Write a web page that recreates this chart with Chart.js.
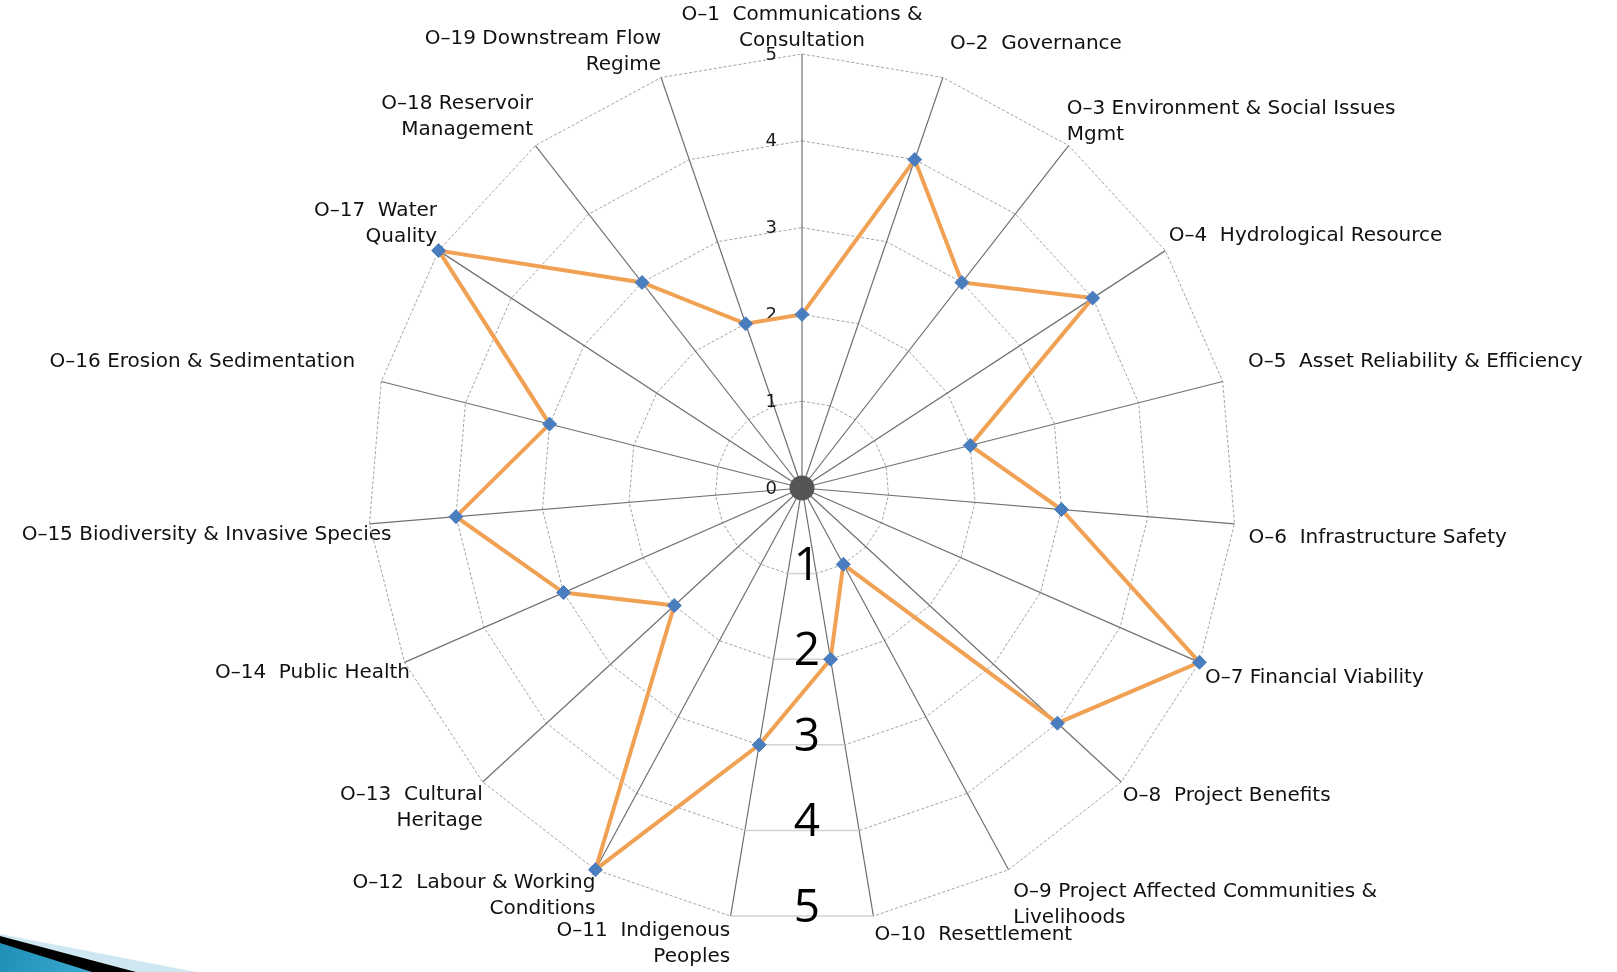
<!DOCTYPE html>
<html>
<head>
<meta charset="utf-8">
<script src="https://cdn.jsdelivr.net/npm/chart.js@4/dist/chart.umd.min.js"></script>
<style>
  html, body { margin: 0; padding: 0; background: #fff; }
  #wrap { width: 1617px; height: 972px; position: relative; }
</style>
</head>
<body>
<div id="wrap"><canvas id="radar"></canvas></div>
<script>
// categories (multi-line labels)
const categories = [
  ['O–1  Communications &', 'Consultation'],
  ['O–2  Governance'],
  ['O–3 Environment & Social Issues', 'Mgmt'],
  ['O–4  Hydrological Resource'],
  ['O–5  Asset Reliability & Efficiency'],
  ['O–6  Infrastructure Safety'],
  ['O–7 Financial Viability'],
  ['O–8  Project Benefits'],
  ['O–9 Project Affected Communities &', 'Livelihoods'],
  ['O–10  Resettlement'],
  ['O–11  Indigenous', 'Peoples'],
  ['O–12  Labour & Working', 'Conditions'],
  ['O–13  Cultural', 'Heritage'],
  ['O–14  Public Health'],
  ['O–15 Biodiversity & Invasive Species'],
  ['O–16 Erosion & Sedimentation'],
  ['O–17  Water', 'Quality'],
  ['O–18 Reservoir', 'Management'],
  ['O–19 Downstream Flow', 'Regime']
];

// scores
const scores = [2, 4, 3, 4, 2, 3, 5, 4, 1, 2, 3, 5, 2, 3, 4, 3, 5, 3, 2];

// tick labels / scale
const tickValues = [0, 1, 2, 3, 4, 5];
// the big numbers overlaid at the bottom
const bottomMarks = ['1', '2', '3', '4', '5'];

// label distance from the spoke end (per label)
const labelPad = [0, 22, -3, 4, 26, 14, 6, 2, 10, 6, 2, 0, 0, -6, -22, 27, 2, 4, 0];

const slideCorner = {
  id: 'slideCorner',
  beforeDraw(chart) {
    const ctx = chart.ctx;
    const H = chart.height;
    ctx.save();
    ctx.fillStyle = '#cfe7f1';
    ctx.beginPath();
    ctx.moveTo(0, H - 38); ctx.lineTo(196, H); ctx.lineTo(0, H); ctx.closePath(); ctx.fill();
    ctx.fillStyle = '#000';
    ctx.beginPath();
    ctx.moveTo(0, H - 36); ctx.lineTo(136, H); ctx.lineTo(0, H); ctx.closePath(); ctx.fill();
    const g = ctx.createLinearGradient(0, H - 30, 90, H);
    g.addColorStop(0, '#1f8fb8');
    g.addColorStop(1, '#3aa9cf');
    ctx.fillStyle = g;
    ctx.beginPath();
    ctx.moveTo(0, H - 29); ctx.lineTo(92, H); ctx.lineTo(0, H); ctx.closePath(); ctx.fill();
    ctx.restore();
  }
};

const overlay = {
  id: 'overlay',
  beforeDatasetsDraw(chart) {
    const r = chart.scales.r;
    const ctx = chart.ctx;
    ctx.save();
    // bottom band with the big numbers
    bottomMarks.forEach((txt, i) => {
      const v = i + 1;
      const a = r.getPointPositionForValue(9, v);
      const b = r.getPointPositionForValue(10, v);
      ctx.beginPath();
      ctx.moveTo(a.x - 1, a.y); ctx.lineTo(b.x + 1, b.y);
      ctx.strokeStyle = '#fff'; ctx.lineWidth = 3; ctx.stroke();
      ctx.beginPath();
      ctx.moveTo(a.x, a.y); ctx.lineTo(b.x, b.y);
      ctx.strokeStyle = '#d2d2d2'; ctx.lineWidth = 1.5; ctx.stroke();
      ctx.fillStyle = '#000';
      ctx.font = '46px "Open Sans"';
      ctx.textAlign = 'center';
      ctx.textBaseline = 'alphabetic';
      ctx.fillText(txt, (a.x + b.x) / 2 + 5, a.y + 6);
    });
    // tick labels, left of the top spoke
    ctx.font = '18px "DejaVu Sans"';
    ctx.fillStyle = '#1a1a1a';
    ctx.textAlign = 'right';
    ctx.textBaseline = 'middle';
    r.ticks.forEach(t => {
      const p = r.getPointPositionForValue(0, t.value);
      ctx.fillText(String(t.value), p.x - 25, p.y + 1);
    });
    ctx.restore();
  },
  afterDatasetsDraw(chart) {
    const r = chart.scales.r;
    const ctx = chart.ctx;
    ctx.save();
    ctx.fillStyle = '#555';
    ctx.beginPath();
    ctx.arc(r.xCenter, r.yCenter, 12.5, 0, Math.PI * 2);
    ctx.fill();
    ctx.restore();
  }
};

const ctx = document.getElementById('radar').getContext('2d');
new Chart(ctx, {
  type: 'radar',
  data: {
    labels: categories,
    datasets: [{
      label: 'Score',
      data: scores,
      borderColor: '#f0a154',
      backgroundColor: 'rgba(0,0,0,0)',
      borderWidth: 4,
      fill: false,
      tension: 0,
      pointStyle: 'rectRot',
      pointRadius: 7,
      pointBackgroundColor: '#4a7dbe',
      pointBorderColor: '#4a7dbe',
      pointBorderWidth: 1
    }]
  },
  options: {
    responsive: true,
    maintainAspectRatio: false,
    animation: false,
    layout: { padding: { top: 0, bottom: -10, left: 2, right: 15 } },
    plugins: {
      legend: { display: false },
      tooltip: { enabled: false }
    },
    scales: {
      r: {
        min: tickValues[0],
        max: tickValues[tickValues.length - 1],
        ticks: { display: false, stepSize: 1 },
        grid: { color: '#a3a3a3', lineWidth: 1, circular: false },
        border: { dash: [3, 2] },
        angleLines: { color: '#707070', lineWidth: 1.2 },
        pointLabels: {
          color: '#111',
          font: { family: '"DejaVu Sans"', size: 20, lineHeight: 1.3 },
          padding: (c) => labelPad[c.index]
        }
      }
    }
  },
  plugins: [slideCorner, overlay]
});
</script>
</body>
</html>
